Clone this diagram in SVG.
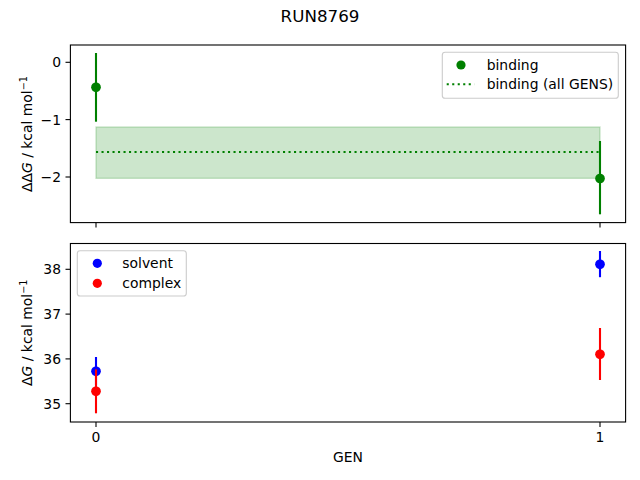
<svg xmlns="http://www.w3.org/2000/svg" width="640" height="480" viewBox="0 0 640 480">
<style>
text{font-family:"DejaVu Sans","Liberation Sans",sans-serif;fill:#000}
.tick{font-size:13.9px}
.lbl{font-size:13.9px}
.spine{fill:none;stroke:#000;stroke-width:1.1}
.tk{stroke:#000;stroke-width:1.1}
.leg{fill:#fff;fill-opacity:0.8;stroke:#ccc;stroke-width:1.1}
.eg{stroke:#008000;stroke-width:2.1}
.eb{stroke:#0000ff;stroke-width:2.1}
.er{stroke:#ff0000;stroke-width:2.1}
</style>
<rect width="640" height="480" fill="#fff"/>
<text x="320" y="22" text-anchor="middle" style="font-size:16.7px">RUN8769</text>

<g id="top-axes">
<rect x="96" y="127" width="504" height="51.3" fill="#008000" fill-opacity="0.2" stroke="#008000" stroke-opacity="0.2" stroke-width="1.4"/>
<line x1="96" y1="152" x2="600" y2="152" stroke="#008000" stroke-width="2.1" stroke-dasharray="2.1,3.4"/>
<line class="eg" x1="96" y1="53" x2="96" y2="121.7"/>
<circle cx="96" cy="87.3" r="4.85" fill="#008000"/>
<line class="eg" x1="600" y1="141" x2="600" y2="214.3"/>
<circle cx="600" cy="178.5" r="4.85" fill="#008000"/>
<rect class="spine" x="70.4" y="45" width="555.2" height="177.6"/>
<g class="tk">
<line x1="96" y1="222.6" x2="96" y2="227.5"/>
<line x1="600" y1="222.6" x2="600" y2="227.5"/>
<line x1="70.4" y1="62.3" x2="65.5" y2="62.3"/>
<line x1="70.4" y1="119.6" x2="65.5" y2="119.6"/>
<line x1="70.4" y1="177" x2="65.5" y2="177"/>
</g>
<g class="tick" text-anchor="end">
<text x="61" y="67.3">0</text>
<text x="61" y="124.6">−1</text>
<text x="61" y="182">−2</text>
</g>
<text class="lbl" transform="translate(32,134) rotate(-90)" text-anchor="middle">ΔΔ<tspan font-style="italic">G</tspan> / kcal mol<tspan font-size="9.7" dy="-5.5">−1</tspan></text>
<g id="legend-top">
<rect class="leg" x="442.3" y="52.3" width="176" height="46" rx="2.8"/>
<circle cx="461" cy="65" r="4.6" fill="#008000"/>
<text class="lbl" x="486.7" y="70">binding</text>
<line x1="446.7" y1="84.3" x2="474.3" y2="84.3" stroke="#008000" stroke-width="2.1" stroke-dasharray="2.1,3.4"/>
<text class="lbl" x="486.7" y="89.3">binding (all GENS)</text>
</g>
</g>

<g id="bottom-axes">
<line class="eb" x1="96" y1="357" x2="96" y2="385.6"/>
<circle cx="96" cy="371.3" r="4.85" fill="#0000ff"/>
<line class="eb" x1="600" y1="251" x2="600" y2="277.2"/>
<circle cx="600" cy="264.3" r="4.85" fill="#0000ff"/>
<line class="er" x1="96" y1="369.3" x2="96" y2="413.3"/>
<circle cx="96" cy="391.3" r="4.85" fill="#ff0000"/>
<line class="er" x1="600" y1="328" x2="600" y2="380"/>
<circle cx="600" cy="354.3" r="4.85" fill="#ff0000"/>
<rect class="spine" x="70.4" y="243.5" width="555.2" height="178.5"/>
<g class="tk">
<line x1="96" y1="422" x2="96" y2="426.9"/>
<line x1="600" y1="422" x2="600" y2="426.9"/>
<line x1="70.4" y1="269.3" x2="65.5" y2="269.3"/>
<line x1="70.4" y1="314.1" x2="65.5" y2="314.1"/>
<line x1="70.4" y1="358.9" x2="65.5" y2="358.9"/>
<line x1="70.4" y1="403.7" x2="65.5" y2="403.7"/>
</g>
<g class="tick" text-anchor="end">
<text x="61" y="274.3">38</text>
<text x="61" y="319.1">37</text>
<text x="61" y="363.9">36</text>
<text x="61" y="408.7">35</text>
</g>
<g class="tick" text-anchor="middle">
<text x="96" y="442">0</text>
<text x="600" y="442">1</text>
</g>
<text class="lbl" x="348" y="462" text-anchor="middle">GEN</text>
<text class="lbl" transform="translate(32,332.7) rotate(-90)" text-anchor="middle">Δ<tspan font-style="italic">G</tspan> / kcal mol<tspan font-size="9.7" dy="-5.5">−1</tspan></text>
<g id="legend-bottom">
<rect class="leg" x="77.3" y="250.7" width="109" height="45.3" rx="2.8"/>
<circle cx="97.3" cy="263.3" r="4.6" fill="#0000ff"/>
<text class="lbl" x="122.3" y="268.3">solvent</text>
<circle cx="97.3" cy="283.3" r="4.6" fill="#ff0000"/>
<text class="lbl" x="122.3" y="288.3">complex</text>
</g>
</g>
</svg>
